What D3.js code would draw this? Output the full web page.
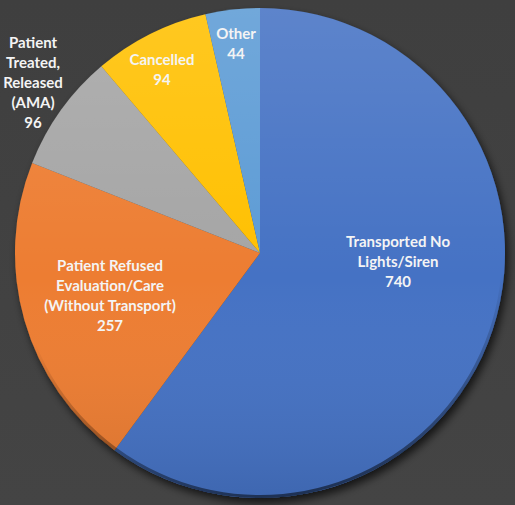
<!DOCTYPE html>
<html>
<head>
<meta charset="utf-8">
<script src="https://cdn.jsdelivr.net/npm/d3@7"></script>
<style>
  html, body { margin: 0; padding: 0; background: #414141; }
  svg { display: block; }
  .label { font-family: Lato, "Open Sans", sans-serif; font-weight: bold; font-size: 15px; fill: #f4f4f4; }
</style>
</head>
<body>
<svg id="chart" width="515" height="505"></svg>
<script>
// Run dispositions, clockwise from 12 o'clock.
var categories = [
    "Transported No Lights/Siren",
    "Patient Refused Evaluation/Care (Without Transport)",
    "Patient Treated, Released (AMA)",
    "Cancelled",
    "Other"
];
var values = [740, 257, 96, 94, 44];
var colors = ["#4472c4", "#ed7d31", "#a5a5a5", "#ffc000", "#5b9bd5"];

// How each label is broken into lines (last line is the value).
var labelLines = [
    ["Transported No", "Lights/Siren"],
    ["Patient Refused", "Evaluation/Care", "(Without Transport)"],
    ["Patient", "Treated,", "Released", "(AMA)"],
    ["Cancelled"],
    ["Other"]
];

// Label block centres, relative to the pie centre (Excel "best fit" spots).
var labelOffsets = [[138, 9], [-150, 43], [-227, -170], [-98, -183], [-24, -209]];

var width = 515, height = 505;
var cx = 260, cy = 253, radius = 245, lineHeight = 20;

var svg = d3.select("#chart");
var defs = svg.append("defs");

// Background: flat dark grey with a faint vertical fade.
var bg = defs.append("linearGradient").attr("id", "bg")
    .attr("x1", 0).attr("y1", 0).attr("x2", 0).attr("y2", 1);
bg.append("stop").attr("offset", "0%").attr("stop-color", "#3f3f3f");
bg.append("stop").attr("offset", "100%").attr("stop-color", "#444444");
svg.append("rect").attr("width", width).attr("height", height).attr("fill", "url(#bg)");

// Soft shadow under the pie, down and to the right.
var shadow = defs.append("filter").attr("id", "shadow")
    .attr("x", "-10%").attr("y", "-10%").attr("width", "130%").attr("height", "130%");
shadow.append("feGaussianBlur").attr("in", "SourceAlpha").attr("stdDeviation", 4);
shadow.append("feOffset").attr("dx", 3).attr("dy", 5).attr("result", "blur");
shadow.append("feComponentTransfer").append("feFuncA").attr("type", "linear").attr("slope", 0.7);
var merge = shadow.append("feMerge");
merge.append("feMergeNode");
merge.append("feMergeNode").attr("in", "SourceGraphic");

// Light-to-dark sheen laid over the whole pie.
var sheen = defs.append("linearGradient").attr("id", "sheen")
    .attr("gradientUnits", "userSpaceOnUse")
    .attr("x1", 0).attr("y1", -radius).attr("x2", 0).attr("y2", radius);
sheen.append("stop").attr("offset", "0%").attr("stop-color", "#fff").attr("stop-opacity", 0.13);
sheen.append("stop").attr("offset", "55%").attr("stop-color", "#fff").attr("stop-opacity", 0);
sheen.append("stop").attr("offset", "100%").attr("stop-color", "#000").attr("stop-opacity", 0.1);

// Dark bevel along the lower rim.
var rim = defs.append("linearGradient").attr("id", "rim")
    .attr("gradientUnits", "userSpaceOnUse")
    .attr("x1", 0).attr("y1", -radius).attr("x2", radius * 0.3).attr("y2", radius);
rim.append("stop").attr("offset", "0%").attr("stop-color", "#000").attr("stop-opacity", 0);
rim.append("stop").attr("offset", "60%").attr("stop-color", "#000").attr("stop-opacity", 0);
rim.append("stop").attr("offset", "100%").attr("stop-color", "#000").attr("stop-opacity", 0.55);

var g = svg.append("g").attr("transform", "translate(" + cx + "," + cy + ")");

var pie = d3.pie().sort(null).value(function (d) { return d; });
var arcs = pie(values);
var arc = d3.arc().innerRadius(0).outerRadius(radius);

var slices = g.append("g").attr("filter", "url(#shadow)");
slices.selectAll("path.slice")
    .data(arcs)
    .enter().append("path")
    .attr("class", "slice")
    .attr("d", arc)
    .attr("fill", function (d, i) { return colors[i]; });

g.append("circle").attr("r", radius).attr("fill", "url(#sheen)");
g.append("circle").attr("r", radius - 1.5).attr("fill", "none")
    .attr("stroke", "url(#rim)").attr("stroke-width", 3);

// Labels: category lines, then the value.
var labels = g.selectAll("text.label")
    .data(arcs)
    .enter().append("text")
    .attr("class", "label")
    .attr("text-anchor", "middle");

labels.each(function (d, i) {
    var lines = labelLines[i].concat([String(values[i])]);
    var x = labelOffsets[i][0];
    var top = labelOffsets[i][1] - (lines.length - 1) * lineHeight / 2;
    var t = d3.select(this);
    lines.forEach(function (line, j) {
        t.append("tspan")
            .attr("x", x)
            .attr("y", top + j * lineHeight)
            .attr("dy", ".35em")
            .text(line);
    });
});
</script>
</body>
</html>
